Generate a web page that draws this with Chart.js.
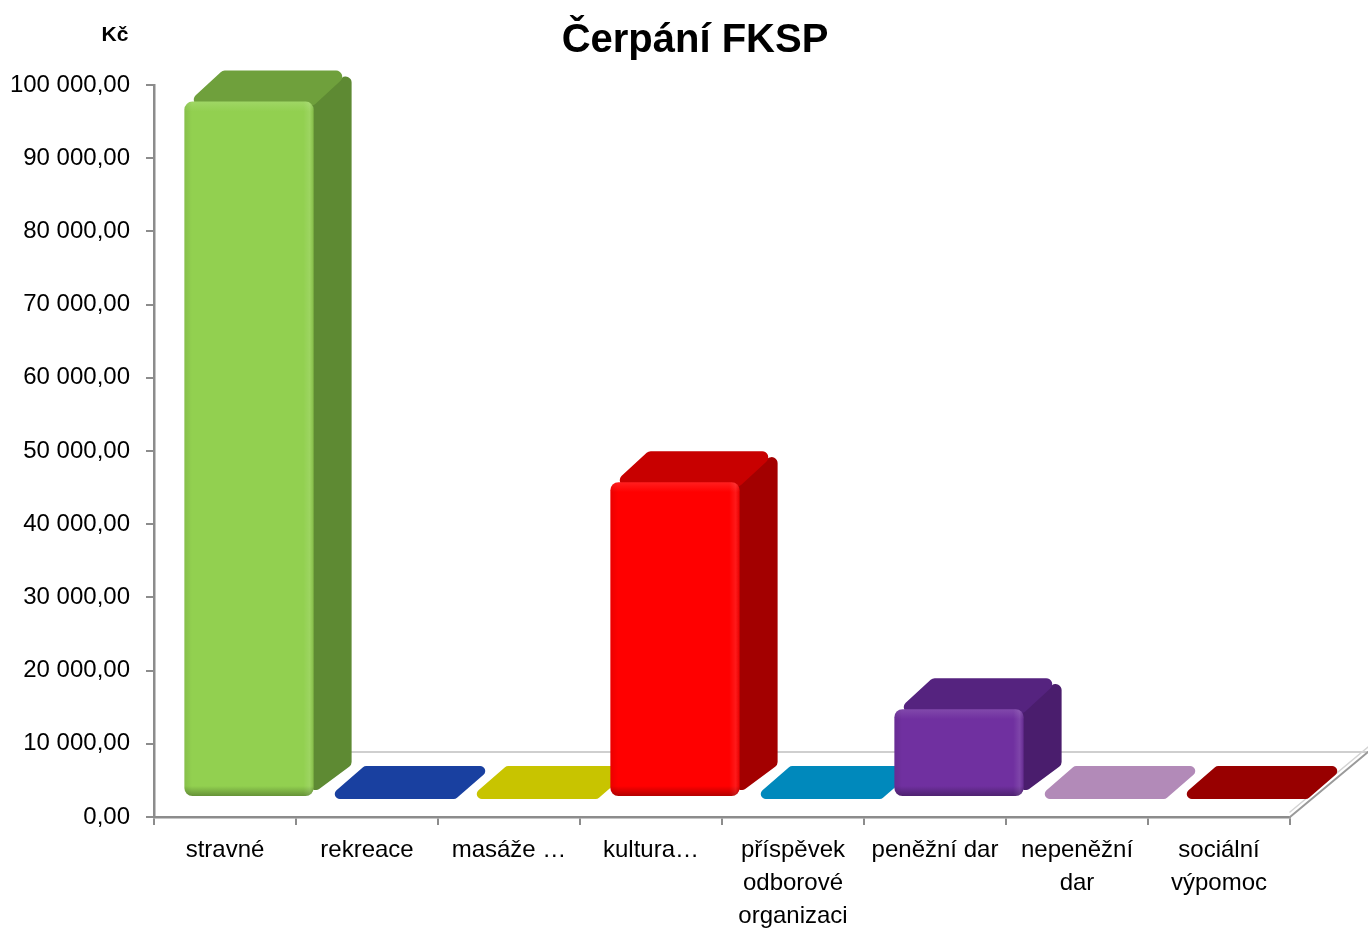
<!DOCTYPE html>
<html><head><meta charset="utf-8">
<script src="https://cdn.jsdelivr.net/npm/chart.js@4.4.1/dist/chart.umd.min.js"></script>
<style>html,body{margin:0;padding:0;background:#fff;}#wrap{width:1368px;height:929px;}</style>
</head><body><div id="wrap"><canvas id="c" width="1368" height="929"></canvas></div>
<script>
// ---- data ----
const categories = ['stravné', 'rekreace', 'masáže …', 'kultura…', ['příspěvek', 'odborové', 'organizaci'], 'peněžní dar', ['nepeněžní', 'dar'], ['sociální', 'výpomoc']];
const values = [95000, 0, 0, 43000, 0, 12000, 0, 0];
const yMin = 0, yMax = 100000, yStep = 10000;
const chartTitle = 'Čerpání FKSP';
const unitLabel = 'Kč';

// ---- styles ----
const frontColors = ['#92D050', '#1940A0', '#C8C400', '#FF0000', '#0089BC', '#7030A0', '#B28AB8', '#980000'];
const topColors   = ['#6FA03C', '#1940A0', '#C8C400', '#C80000', '#0089BC', '#55237F', '#B28AB8', '#980000'];
const sideColors  = ['#5E8A33', '#1940A0', '#C8C400', '#A30000', '#0089BC', '#4A1D6D', '#B28AB8', '#980000'];
const FONT = '"Liberation Sans", Arial, sans-serif';
const AXIS_GRAY = '#8c8c8c';
const FRONT_DX = 24, FRONT_DY = -20, DEPTH_DX = 38, DEPTH_DY = -31, FLOOR_DX = 78, FLOOR_DY = -65;

function fmt(v) {
  return Math.round(v).toString().replace(/\B(?=(\d{3})+(?!\d))/g, ' ') + ',00';
}
function shade(hex, f) {
  const n = parseInt(hex.slice(1), 16);
  let r = (n >> 16) & 255, g = (n >> 8) & 255, b = n & 255;
  if (f >= 0) { r += (255 - r) * f; g += (255 - g) * f; b += (255 - b) * f; }
  else { r *= (1 + f); g *= (1 + f); b *= (1 + f); }
  return 'rgb(' + Math.round(r) + ',' + Math.round(g) + ',' + Math.round(b) + ')';
}
function roundedPoly(ctx, pts, r) {
  const n = pts.length;
  const a = pts[n - 1], b = pts[0];
  ctx.beginPath();
  ctx.moveTo((a[0] + b[0]) / 2, (a[1] + b[1]) / 2);
  for (let k = 0; k < n; k++) {
    const p = pts[k], q = pts[(k + 1) % n];
    ctx.arcTo(p[0], p[1], q[0], q[1], r);
  }
  ctx.closePath();
}

const bars3d = {
  id: 'bars3d',
  beforeDatasetsDraw(chart) {
    const { ctx, chartArea: a, scales: { y } } = chart;
    const y0 = y.getPixelForValue(0);
    ctx.save();
    ctx.lineCap = 'round';
    ctx.strokeStyle = '#cfcfcf'; ctx.lineWidth = 2;
    ctx.beginPath(); ctx.moveTo(a.left + FLOOR_DX, y0 + FLOOR_DY); ctx.lineTo(a.right + FLOOR_DX, y0 + FLOOR_DY); ctx.stroke();
    ctx.strokeStyle = '#d4d4d4'; ctx.lineWidth = 1.5;
    ctx.beginPath(); ctx.moveTo(a.right, y0 - 5); ctx.lineTo(a.right + FLOOR_DX, y0 + FLOOR_DY - 5); ctx.stroke();
    ctx.strokeStyle = '#9a9a9a'; ctx.lineWidth = 2;
    ctx.beginPath(); ctx.moveTo(a.right, y0); ctx.lineTo(a.right + FLOOR_DX, y0 + FLOOR_DY); ctx.stroke();
    ctx.restore();
  },
  beforeDatasetDraw() { return false; },
  afterDatasetsDraw(chart) {
    const ctx = chart.ctx;
    const meta = chart.getDatasetMeta(0);
    meta.data.forEach((el, i) => {
      const p = el.getProps(['x', 'y', 'base', 'width'], true);
      const L = p.x - p.width / 2 + FRONT_DX, R = p.x + p.width / 2 + FRONT_DX;
      const T = Math.min(p.y, p.base) + FRONT_DY, B = Math.max(p.y, p.base) + FRONT_DY;
      const h = B - T;
      ctx.save();
      if (h < 1) {
        ctx.fillStyle = topColors[i];
        roundedPoly(ctx, [[L, B + 2], [L + DEPTH_DX, B + DEPTH_DY], [R + DEPTH_DX, B + DEPTH_DY], [R, B + 2]], 5);
        ctx.fill();
      } else {
        ctx.fillStyle = sideColors[i];
        roundedPoly(ctx, [[R - 4, T], [R + DEPTH_DX, T + DEPTH_DY], [R + DEPTH_DX, B + DEPTH_DY], [R - 4, B]], 6);
        ctx.fill();
        ctx.fillStyle = topColors[i];
        roundedPoly(ctx, [[L, T + 4], [L + DEPTH_DX, T + DEPTH_DY], [R + DEPTH_DX, T + DEPTH_DY], [R, T + 4]], 6);
        ctx.fill();
        const g = ctx.createLinearGradient(0, T, 0, B);
        const base = frontColors[i];
        g.addColorStop(0, shade(base, 0.12));
        g.addColorStop(Math.min(0.45, 10 / h), base);
        g.addColorStop(Math.max(0.55, 1 - 10 / h), base);
        g.addColorStop(1, shade(base, -0.3));
        ctx.fillStyle = g;
        ctx.beginPath();
        ctx.roundRect(L, T, R - L, h, 8);
        ctx.fill();
        const gh = ctx.createLinearGradient(L, 0, R, 0);
        gh.addColorStop(0, 'rgba(0,0,0,0.08)');
        gh.addColorStop(0.06, 'rgba(0,0,0,0)');
        gh.addColorStop(0.92, 'rgba(255,255,255,0)');
        gh.addColorStop(0.97, 'rgba(255,255,255,0.10)');
        gh.addColorStop(1, 'rgba(0,0,0,0.10)');
        ctx.fillStyle = gh;
        ctx.beginPath();
        ctx.roundRect(L, T, R - L, h, 8);
        ctx.fill();
      }
      ctx.restore();
    });
  }
};

const unitPlugin = {
  id: 'unitLabel',
  afterDraw(chart) {
    const ctx = chart.ctx;
    ctx.save();
    ctx.font = 'bold 21px ' + FONT;
    ctx.fillStyle = '#000';
    ctx.textAlign = 'center';
    ctx.textBaseline = 'middle';
    ctx.fillText(unitLabel, 115, 35);
    ctx.restore();
  }
};

new Chart(document.getElementById('c'), {
  type: 'bar',
  data: {
    labels: categories,
    datasets: [{ data: values, backgroundColor: frontColors, borderWidth: 0, categoryPercentage: 1, barPercentage: 0.91 }]
  },
  options: {
    responsive: false, animation: false, devicePixelRatio: 1,
    layout: { padding: { left: 0, right: -22, top: 0, bottom: 0 } },
    plugins: {
      legend: { display: false },
      tooltip: { enabled: false },
      title: {
        display: true, text: chartTitle, color: '#000',
        font: { family: FONT, size: 40, weight: 'bold', lineHeight: 1.2 },
        padding: { top: 17, bottom: 20 }
      }
    },
    scales: {
      x: {
        grid: { display: true, drawOnChartArea: false, tickLength: 8, color: AXIS_GRAY, lineWidth: 2, offset: true },
        border: { color: AXIS_GRAY, width: 2.5 },
        ticks: { color: '#000', font: { family: FONT, size: 24, lineHeight: 1.38 }, padding: 9, maxRotation: 0, minRotation: 0, autoSkip: false },
        afterFit(s) { s.height = 112; }
      },
      y: {
        min: yMin, max: yMax,
        ticks: { stepSize: yStep, callback: v => fmt(v), color: '#000', font: { family: FONT, size: 24 }, padding: 16 },
        grid: { drawOnChartArea: false, tickLength: 8, color: AXIS_GRAY, lineWidth: 2 },
        border: { color: AXIS_GRAY, width: 2.5 },
        afterFit(s) { s.width = 154; }
      },
      yR: {
        type: 'linear', position: 'right', display: true,
        grid: { display: false }, ticks: { display: false }, border: { display: false },
        afterFit(s) { s.width = 100; }
      }
    }
  },
  plugins: [bars3d, unitPlugin]
});
</script>
</body></html>
